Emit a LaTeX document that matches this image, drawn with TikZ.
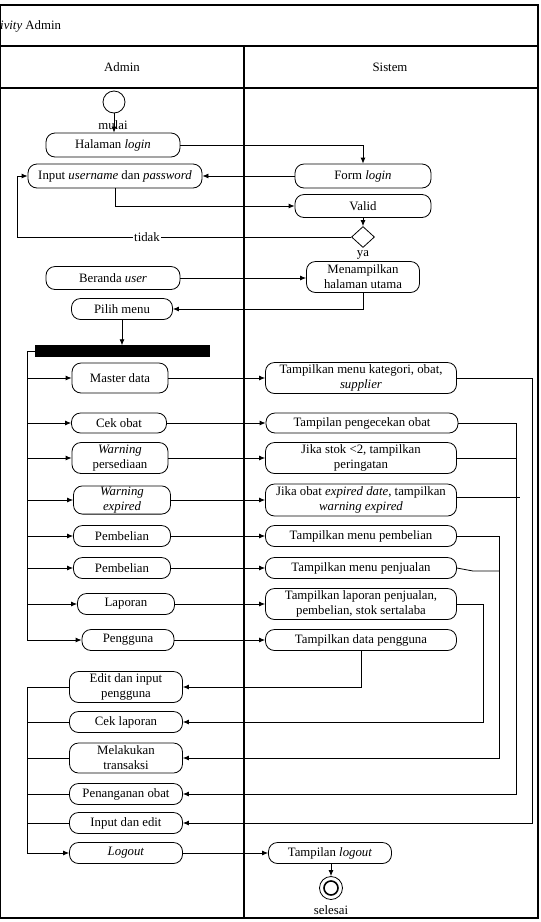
\documentclass[tikz,border=0pt]{standalone}
\usepackage{fontspec}
\setmainfont{Liberation Serif}
\usetikzlibrary{arrows.meta,shapes.geometric}
\newcommand\dgfont{\fontsize{12.8}{15}\selectfont}
\begin{document}
\begin{tikzpicture}[x=1pt,y=-1pt,
  act/.style={draw, rounded corners=9pt, inner sep=1pt, align=center, font=\dgfont, line width=0.8pt},
  lbl/.style={font=\dgfont, inner sep=1pt},
  flow/.style={line width=0.8pt, -{Latex[length=6pt,width=5pt]}},
  plain/.style={line width=0.8pt},
  frame/.style={line width=1.3pt}]
\useasboundingbox (0,0) rectangle (541,922);
% frame
\draw[frame] (0,5) rectangle (538,918);
\draw[frame] (0,46) -- (538,46);
\draw[frame] (0,88) -- (538,88);
\draw[frame] (244,46) -- (244,918);
\node[lbl, anchor=west, inner sep=0pt] (title) at (0,26) {\textit{ivity} Admin};
\node[lbl] (hadmin) at (122,67) {Admin};
\node[lbl] (hsistem) at (390,67) {Sistem};

% start
\node[draw, circle, minimum size=22pt, inner sep=0pt, line width=0.8pt] (st) at (114,102) {};
\node[lbl] (mulai) at (113,125) {mulai};

% Admin lane
\node[act, minimum width=134pt, minimum height=24pt] (hal) at (113,145) {Halaman \textit{login}};
\node[act, minimum width=174pt, minimum height=24pt] (inp) at (115,176) {Input \textit{username} dan \textit{password}};
\node[act, minimum width=134pt, minimum height=23pt] (ber) at (113,278) {Beranda \textit{user}};
\node[act, minimum width=101pt, minimum height=21pt] (pil) at (122,309) {Pilih menu};
\node[draw, fill=black, minimum width=174pt, minimum height=11pt, inner sep=0pt] (bar) at (122,351) {};
\node[act, minimum width=96pt, minimum height=30pt] (md) at (120,378) {Master data};
\node[act, minimum width=95pt, minimum height=20pt] (co) at (119,423) {Cek obat};
\node[act, minimum width=96pt, minimum height=31pt] (wp) at (120,458) {\textit{Warning}\\persediaan};
\node[act, minimum width=97pt, minimum height=26pt] (we) at (122,500) {\textit{Warning}\\\textit{expired}};
\node[act, minimum width=97pt, minimum height=21pt] (pb1) at (122,536) {Pembelian};
\node[act, minimum width=97pt, minimum height=21pt] (pb2) at (122,568) {Pembelian};
\node[act, minimum width=97pt, minimum height=21pt] (lap) at (126,604) {Laporan};
\node[act, minimum width=92pt, minimum height=21pt] (pg) at (128,640) {Pengguna};
\node[act, minimum width=113pt, minimum height=31pt] (ed) at (126,687) {Edit dan input\\pengguna};
\node[act, minimum width=113pt, minimum height=21pt] (cl) at (126,722) {Cek laporan};
\node[act, minimum width=113pt, minimum height=30pt] (mt) at (126,758) {Melakukan\\transaksi};
\node[act, minimum width=113pt, minimum height=21pt] (po) at (126,794) {Penanganan obat};
\node[act, minimum width=113pt, minimum height=21pt] (ie) at (126,823) {Input dan edit};
\node[act, minimum width=113pt, minimum height=21pt] (lo) at (126,853) {\textit{Logout}};

% Sistem lane
\node[act, minimum width=136pt, minimum height=24pt] (fl) at (363,176) {Form \textit{login}};
\node[act, minimum width=136pt, minimum height=23pt] (va) at (363,206) {Valid};
\node[draw, diamond, minimum width=23pt, minimum height=21pt, inner sep=0pt, line width=0.8pt] (dia) at (363,237) {};
\node[lbl] (ya) at (363,255) {ya};
\node[act, minimum width=113pt, minimum height=31pt] (mn) at (363,277) {Menampilkan\\halaman utama};
\node[act, minimum width=191pt, minimum height=31pt] (s1) at (361,378) {Tampilkan menu kategori, obat,\\\textit{supplier}};
\node[act, minimum width=192pt, minimum height=20pt] (s2) at (362,423) {Tampilan pengecekan obat};
\node[act, minimum width=191pt, minimum height=31pt] (s3) at (361,458) {Jika stok <2, tampilkan\\peringatan};
\node[act, minimum width=191pt, minimum height=32pt] (s4) at (361,500) {Jika obat \textit{expired date}, tampilkan\\\textit{warning expired}};
\node[act, minimum width=191pt, minimum height=21pt] (s5) at (361,536) {Tampilkan menu pembelian};
\node[act, minimum width=191pt, minimum height=21pt] (s6) at (361,568) {Tampilkan menu penjualan};
\node[act, minimum width=191pt, minimum height=31pt] (s7) at (361,604) {Tampilkan laporan penjualan,\\pembelian, stok sertalaba};
\node[act, minimum width=191pt, minimum height=21pt] (s8) at (361,640) {Tampilkan data pengguna};
\node[act, minimum width=123pt, minimum height=21pt] (tl) at (330,853) {Tampilan \textit{logout}};
\node[draw, circle, minimum size=23pt, inner sep=0pt, line width=0.8pt] (en) at (331,888) {};
\node[draw, circle, minimum size=14pt, inner sep=0pt, line width=1.6pt] (en2) at (331,888) {};
\node[lbl] (selesai) at (331,910) {selesai};

% connectors: login part
\draw[flow] (st.south) -- (hal.north -| st.south);
\draw[flow] (hal.east) -| (fl.north);
\draw[flow] (fl.west) -- (inp.east);
\draw[flow] (inp.south) |- (va.west);
\draw[flow] (va.south) -- (dia.north);
\coordinate (tk) at (17,237);
\draw[flow] (dia.west) -- (tk) |- (inp.west);
\node[lbl, fill=white] (tidak) at (147,237) {tidak};
\draw[flow] (ber.east) -- (ber.east -| mn.west);
\draw[flow] (mn.south) |- (pil.east);
\draw[flow] (pil.south) -- (bar.north -| pil.south);

% fork
\coordinate (fk1) at (27,351);
\coordinate (fk2) at (27,640);
\draw[plain] (bar.west) -- (fk1) -- (fk2);
\foreach \n in {md,co,wp,we,pb1,pb2,lap,pg}
  \draw[flow] (fk1 |- \n.west) -- (\n.west);

% admin -> sistem
\draw[flow] (md.east) -- (s1.west);
\draw[flow] (co.east) -- (s2.west);
\draw[flow] (wp.east) -- (s3.west);
\draw[flow] (we.east) -- (s4.west);
\draw[flow] (pb1.east) -- (s5.west);
\draw[flow] (pb2.east) -- (s6.west);
\draw[flow] (lap.east) -- (s7.west);
\draw[flow] (pg.east) -- (s8.west);

% sistem -> admin returns
\coordinate (r1) at (532,378);
\draw[flow] (s1.east) -- (r1) |- (ie.east);
\coordinate (r2) at (516,423);
\draw[flow] (s2.east) -- (r2) |- (po.east);
\draw[plain] (s3.east) -- (516,458);
\coordinate (r2b) at (520,497);
\draw[plain] (s4.east |- r2b) -- (r2b);
\coordinate (r3) at (499,536);
\draw[flow] (s5.east) -- (r3) |- (mt.east);
\coordinate (r3a) at (473,571);
\coordinate (r3b) at (499,571);
\draw[plain] (s6.east) -- (r3a) -- (r3b);
\coordinate (r4) at (483,604);
\draw[flow] (s7.east) -- (r4) |- (cl.east);
\draw[flow] (s8.south) |- (ed.east);

% merge to logout
\coordinate (m1) at (27,687);
\coordinate (m2) at (27,853);
\draw[plain] (ed.west) -- (m1);
\draw[flow] (m1) -- (m2) -- (lo.west);
\foreach \n in {cl,mt,po,ie}
  \draw[plain] (\n.west) -- (m1 |- \n.west);
\draw[flow] (lo.east) -- (tl.west);
\draw[flow] (tl.south -| en.north) -- (en.north);
\end{tikzpicture}
\end{document}
